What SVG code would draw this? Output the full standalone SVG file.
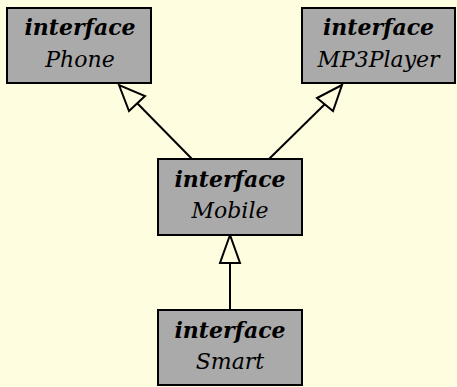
<svg xmlns="http://www.w3.org/2000/svg" width="457" height="387" viewBox="0 0 457 387">
<style>
.box{fill:#aaaaaa;stroke:#000;stroke-width:2}
.t1{font-family:"DejaVu Serif",serif;font-style:italic;font-weight:bold;font-size:22px;text-anchor:middle;fill:#000}
.t2{font-family:"DejaVu Serif",serif;font-style:italic;font-size:22px;text-anchor:middle;fill:#000}
.edge{stroke:#000;stroke-width:2;fill:none}
.head{fill:#fffde0;stroke:#000;stroke-width:2;stroke-linejoin:miter}
</style>
<rect width="457" height="387" fill="#fffde0"/>
<g id="connectors">
<line class="edge" x1="192" y1="159" x2="137" y2="103"/>
<polygon class="head" points="119,85 129,111 145,96"/>
<line class="edge" x1="269" y1="159" x2="325" y2="104"/>
<polygon class="head" points="342,85 317,98 333,111"/>
<line class="edge" x1="230" y1="310" x2="230" y2="262"/>
<polygon class="head" points="230,235 220,263 240,263"/>
</g>
<g id="Phone">
<rect class="box" x="7" y="8" width="144" height="75"/>
<text class="t1" x="80" y="35">interface</text>
<text class="t2" x="80" y="67">Phone</text>
</g>
<g id="MP3Player">
<rect class="box" x="302" y="8" width="153" height="75"/>
<text class="t1" x="378.5" y="35">interface</text>
<text class="t2" x="378.5" y="67">MP3Player</text>
</g>
<g id="Mobile">
<rect class="box" x="158" y="159" width="144" height="76"/>
<text class="t1" x="230" y="187">interface</text>
<text class="t2" x="230" y="218">Mobile</text>
</g>
<g id="Smart">
<rect class="box" x="158" y="310" width="144" height="75"/>
<text class="t1" x="230" y="338">interface</text>
<text class="t2" x="230" y="369">Smart</text>
</g>
</svg>
